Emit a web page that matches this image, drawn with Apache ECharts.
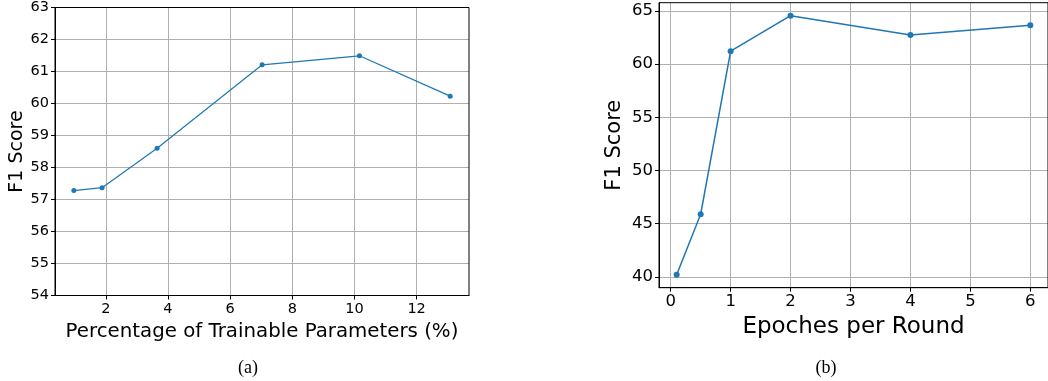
<!DOCTYPE html>
<html>
<head>
<meta charset="utf-8">
<script src="https://cdn.jsdelivr.net/npm/echarts@6/dist/echarts.min.js"></script>
<style>
html,body{margin:0;padding:0;background:#fff;}
#chart{width:1048px;height:381px;}
</style>
</head>
<body>
<div id="chart"></div>
<script>
// ---- data ----
const paramPct = [0.97, 1.88, 3.65, 7.03, 10.16, 13.08];
const paramF1 = [57.28, 57.37, 58.6, 61.21, 61.49, 60.23];
const epochs = [0.1, 0.5, 1, 2, 4, 6];
const epochF1 = [40.19, 45.88, 61.22, 64.56, 62.74, 63.65];

const paramTicksX = [2, 4, 6, 8, 10, 12];
const paramTicksY = [54, 55, 56, 57, 58, 59, 60, 61, 62, 63];
const epochTicksX = [0, 1, 2, 3, 4, 5, 6];
const epochTicksY = [40, 45, 50, 55, 60, 65];

const xNameA = 'Percentage of Trainable Parameters (%)';
const xNameB = 'Epoches per Round';
const yName = 'F1 Score';
const captions = ['(a)', '(b)'];

// ---- helpers ----
function padRange(arr) {
  const lo = Math.min(...arr), hi = Math.max(...arr);
  const m = (hi - lo) * 0.05;
  return [lo - m, hi + m];
}
const FONT = 'DejaVu Sans';
const gridColor = '#b0b0b0';
const lineColor = '#1f77b4';

function valueAxis(gridIndex, range, ticks, fontSize, name, nameSize, nameGap) {
  return {
    type: 'value',
    gridIndex: gridIndex,
    min: range[0],
    max: range[1],
    name: name,
    nameLocation: 'middle',
    nameGap: nameGap,
    nameTextStyle: {fontFamily: FONT, fontSize: nameSize, color: '#000'},
    axisLine: {show: true, onZero: false, lineStyle: {color: '#000', width: 1}},
    axisTick: {show: true, inside: false, length: 4, customValues: ticks, lineStyle: {color: '#000', width: 1}},
    axisLabel: {customValues: ticks, fontFamily: FONT, fontSize: fontSize, color: '#000', margin: 6,
      showMinLabel: true, showMaxLabel: true},
    splitLine: {show: true, lineStyle: {color: gridColor, width: 1}},
    minorTick: {show: false}
  };
}

const chart = echarts.init(document.getElementById('chart'), null, {renderer: 'canvas'});

const rangeAX = padRange(paramPct);
const rangeAY = [54, 63];
const rangeBX = padRange(epochs);
const rangeBY = padRange(epochF1);

chart.setOption({
  animation: false,
  backgroundColor: '#fff',
  grid: [
    {left: 55, top: 7.5, width: 414, height: 288, show: true, borderColor: '#000', borderWidth: 1, backgroundColor: 'transparent', z: 3},
    {left: 659, top: 2.7, width: 392, height: 285, show: true, borderColor: '#000', borderWidth: 1, backgroundColor: 'transparent', z: 3}
  ],
  xAxis: [
    valueAxis(0, rangeAX, paramTicksX, 14.5, xNameA, 19.8, 17),
    valueAxis(1, rangeBX, epochTicksX, 16.5, xNameB, 23, 22)
  ],
  yAxis: [
    valueAxis(0, rangeAY, paramTicksY, 14.5, yName, 19, 27),
    valueAxis(1, rangeBY, epochTicksY, 16.5, yName, 21, 34)
  ],
  series: [
    {
      type: 'line', xAxisIndex: 0, yAxisIndex: 0,
      data: paramPct.map((x, i) => [x, paramF1[i]]),
      symbol: 'circle', symbolSize: 5,
      itemStyle: {color: lineColor},
      lineStyle: {color: lineColor, width: 1.2},
      z: 5
    },
    {
      type: 'line', xAxisIndex: 1, yAxisIndex: 1,
      data: epochs.map((x, i) => [x, epochF1[i]]),
      symbol: 'circle', symbolSize: 6,
      itemStyle: {color: lineColor},
      lineStyle: {color: lineColor, width: 1.5},
      z: 5
    }
  ],
  graphic: [
    {type: 'text', style: {text: captions[0], font: '18px "Liberation Serif"', fill: '#000', align: 'center', verticalAlign: 'middle', x: 248, y: 368}},
    {type: 'text', style: {text: captions[1], font: '18px "Liberation Serif"', fill: '#000', align: 'center', verticalAlign: 'middle', x: 826, y: 368}}
  ]
});
</script>
</body>
</html>
